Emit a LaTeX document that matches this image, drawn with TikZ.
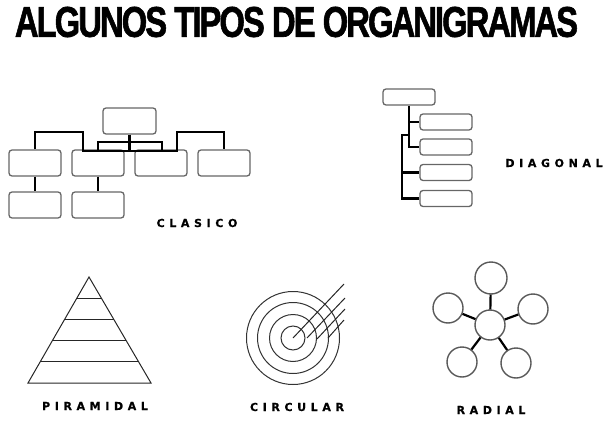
\documentclass[tikz,border=0pt]{standalone}
\usepackage{fontspec}
\setmainfont{Liberation Sans}
\newfontfamily\titlefont[FakeBold=1.6,LetterSpace=-6]{Liberation Sans Bold}
\newfontfamily\labfont[LetterSpace=42,FakeBold=0.6]{DejaVu Sans Bold}
\usetikzlibrary{calc}
\begin{document}
\begin{tikzpicture}[x=1pt,y=-1pt,
  box/.style={draw=black!60,line width=1.3pt,rounded corners=3pt,minimum width=52pt,inner sep=0pt},
  conn/.style={draw=black,line width=2.2pt},
  thin/.style={draw=black!85,line width=1pt},
  lab/.style={font=\labfont\fontsize{11}{12}\selectfont,inner sep=0pt},
  rc/.style={circle,draw=black!65,line width=1.4pt,inner sep=0pt}]
\useasboundingbox (0,0) rectangle (608,423);
% title
\node[inner sep=0pt] (title) at (296.5,22) {\resizebox{563pt}{30pt}{\titlefont ALGUNOS TIPOS DE ORGANIGRAMAS}};
% ---------- CLASICO ----------
\node[box,minimum width=53pt,minimum height=26pt] (t) at (129.5,121) {};
\foreach \n/\xx in {b1/35,b2/98,b3/161,b4/224}
  \node[box,minimum height=26pt] (\n) at (\xx,163) {};
\node[box,minimum height=26pt] (c1) at (35,205) {};
\node[box,minimum height=26pt] (c2) at (98,205) {};
\draw[conn] (b1.north) |- (83,132) |- (177,151) |- (b4.north |- 0,132) -- (b4.north);
\draw[conn] (t.south) -- (t.south |- 0,151);
\draw[conn] (98,151) |- (162,142) -- (162,151);
\draw[conn] (b1.south) -- (c1.north);
\draw[conn] (b2.south) -- (c2.north);
\node[lab] (lclas) at (197,223) {CLASICO};
% ---------- DIAGONAL ----------
\node[box,minimum height=16pt] (d0) at (409,97) {};
\foreach \n/\yy in {d1/122,d2/147,d3/172.5,d4/198.5}
  \node[box,minimum height=16pt] (\n) at (446,\yy) {};
\draw[conn] (d0.south) |- (d2.west);
\draw[conn] (d0.south |- d1.west) -- (d1.west);
\draw[conn] (d0.south |- 0,135) -- (402,135) |- (d4.west);
\draw[conn] (402,0 |- d3.west) -- (d3.west);
\node[lab] (ldiag) at (554,163) {DIAGONAL};
% ---------- PIRAMIDAL ----------
\coordinate (ap) at (89,277);
\coordinate (bl) at (28,383);
\coordinate (br) at (151,383);
\draw[thin] (ap) -- (br) -- (bl) -- cycle;
\foreach \f in {0.2,0.4,0.6,0.8}
  \draw[thin] ($(ap)!\f!(bl)$) -- ($(ap)!\f!(br)$);
\node[lab] (lpir) at (95,406) {PIRAMIDAL};
% ---------- CIRCULAR ----------
\coordinate (cc) at (293,338);
\foreach \r in {46.5,35.5,23.5,12}
  \draw[thin,draw=black!80] (cc) circle[radius=\r];
\draw[thin] (cc) -- (344,284);
\draw[thin] (307,338) -- (345,298);
\draw[thin] (317,339) -- (345,309);
\draw[thin] (328,338) -- (344,320);
\node[lab] (lcirc) at (297,407) {CIRCULAR};
% ---------- RADIAL ----------
\node[rc,minimum size=30pt] (rc0) at (490,325) {};
\node[rc,minimum size=32pt] (r1) at (491,278) {};
\node[rc,minimum size=30pt] (r2) at (448,308) {};
\node[rc,minimum size=30pt] (r3) at (533,309) {};
\node[rc,minimum size=30pt] (r4) at (462,362) {};
\node[rc,minimum size=30pt] (r5) at (516,363) {};
\foreach \n in {r1,r2,r3,r4,r5}
  \draw[conn] (rc0) -- (\n);
\node[lab] (lrad) at (491,410) {RADIAL};
\end{tikzpicture}
\end{document}
